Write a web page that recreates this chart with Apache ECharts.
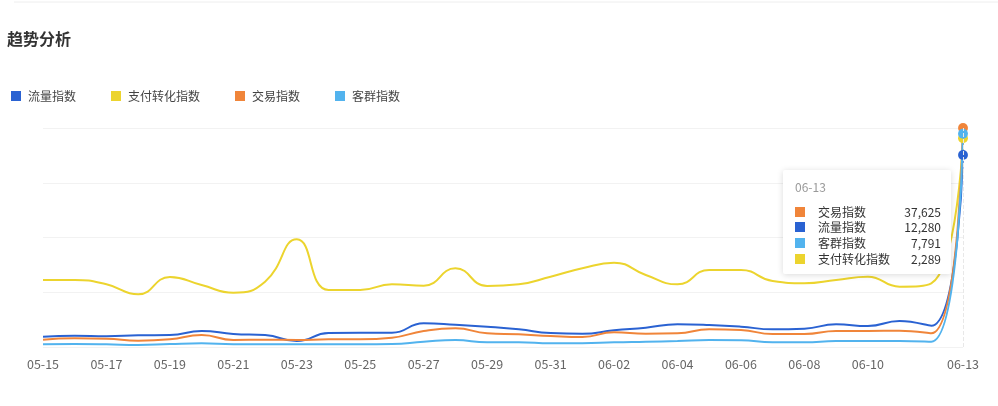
<!DOCTYPE html>
<html>
<head>
<meta charset="utf-8">
<script src="https://cdn.jsdelivr.net/npm/echarts@6/dist/echarts.min.js"></script>
<style>
  html, body { margin: 0; padding: 0; background: #fff; }
  #trendChart { width: 998px; height: 406px; }
</style>
</head>
<body>
<div id="trendChart"></div>
<script>
// 日期 05-15 ~ 06-13
const dates = ['05-15','05-16','05-17','05-18','05-19','05-20','05-21','05-22','05-23','05-24',
  '05-25','05-26','05-27','05-28','05-29','05-30','05-31','06-01','06-02','06-03',
  '06-04','06-05','06-06','06-07','06-08','06-09','06-10','06-11','06-12','06-13'];

const flowIndex = [659, 722, 684, 748, 767, 1023, 831, 767, 384, 895,
  914, 914, 1515, 1426, 1298, 1131, 895, 850, 1068, 1234,
  1451, 1406, 1298, 1131, 1170, 1451, 1342, 1662, 1362, 12280];

const payIndex = [734, 734, 687, 578, 767, 679, 595, 716, 1180, 625,
  625, 687, 672, 862, 668, 687, 770, 862, 924, 789,
  687, 844, 844, 723, 698, 734, 770, 661, 696, 2289];

const tradeIndex = [1254, 1495, 1426, 1082, 1323, 2062, 1203, 1254, 1203, 1323,
  1323, 1598, 2749, 3213, 2354, 2182, 1890, 1718, 2525, 2285,
  2354, 3041, 2921, 2233, 2233, 2749, 2749, 2800, 2354, 37625];

const customerIndex = [99, 110, 99, 73, 110, 135, 99, 99, 99, 99,
  99, 110, 194, 256, 172, 172, 135, 135, 172, 194,
  219, 256, 245, 172, 172, 219, 219, 219, 194, 7791];

const seriesNames = ['流量指数', '支付转化指数', '交易指数', '客群指数'];
const seriesColors = ['#2a62d2', '#ecd42e', '#f0853a', '#52b3ee'];

const font = '"Noto Sans CJK SC", "Noto Sans", sans-serif';
const chart = echarts.init(document.getElementById('trendChart'));

const makeLine = (idx, data) => ({
  name: seriesNames[idx],
  type: 'line',
  yAxisIndex: idx,
  data,
  smooth: true,
  showSymbol: false,
  symbol: 'circle',
  symbolSize: 9,
  lineStyle: { width: 2, color: seriesColors[idx] },
  itemStyle: { color: seriesColors[idx], borderWidth: 0 },
  emphasis: { disabled: true }
});

const hiddenAxis = (max) => ({ type: 'value', show: false, min: 0, max });

const fmt = (v) => Number(v).toLocaleString('en-US');

chart.setOption({
  animation: false,
  textStyle: { fontFamily: font },
  title: {
    text: '趋势分析',
    left: 2,
    top: 26,
    textStyle: { fontSize: 16, fontWeight: 'bold', color: '#333', fontFamily: font }
  },
  legend: {
    left: 6,
    top: 85,
    icon: 'rect',
    itemWidth: 10,
    itemHeight: 10,
    itemGap: 35,
    textStyle: { fontSize: 12, color: '#444', padding: [0, 0, 0, 2], fontFamily: font },
    data: seriesNames
  },
  grid: { left: 43, right: 35, top: 128, bottom: 59 },
  tooltip: {
    trigger: 'axis',
    position: [783, 170],
    backgroundColor: '#fff',
    borderWidth: 0,
    padding: [9, 10, 8, 12],
    extraCssText: 'box-shadow: 0 1px 6px rgba(0,0,0,0.15); border-radius: 2px;',
    axisPointer: { type: 'line', lineStyle: { color: '#e8e8e8', width: 1 } },
    formatter: (params) => {
      const rows = params.slice().sort((a, b) => b.value - a.value).map(p =>
        '<div style="display:flex;align-items:center;height:15.7px;">' +
        '<span style="display:inline-block;width:10px;height:10px;background:' + p.color + ';margin-right:13px;"></span>' +
        '<span style="flex:1;color:#333;">' + p.seriesName + '</span>' +
        '<span style="color:#333;margin-left:20px;">' + fmt(p.value) + '</span></div>'
      ).join('');
      return '<div style="font-family:' + font.replace(/"/g, "'") + ';font-size:12px;width:146px;line-height:15.7px;">' +
        '<div style="color:#999;margin-bottom:9px;">' + params[0].axisValue + '</div>' + rows + '</div>';
    }
  },
  xAxis: {
    type: 'category',
    boundaryGap: false,
    data: dates,
    axisLine: { show: false },
    axisTick: { show: false },
    axisLabel: {
      color: '#666',
      fontSize: 12.5,
      margin: 11,
      fontFamily: font,
      interval: (i) => i === dates.length - 1 || (i % 2 === 0 && i < dates.length - 2)
    }
  },
  yAxis: [
    {
      type: 'value', min: 0, max: 14000, interval: 3500,
      axisLine: { show: false }, axisTick: { show: false }, axisLabel: { show: false },
      splitLine: { lineStyle: { color: '#f2f2f2' } }
    },
    hiddenAxis(2400),
    hiddenAxis('dataMax'),
    hiddenAxis(8000)
  ],
  graphic: [{
    type: 'line',
    shape: { x1: 14, y1: 2, x2: 998, y2: 2 },
    style: { stroke: '#eeeeee', lineWidth: 1 }
  }],
  series: [
    makeLine(0, flowIndex),
    makeLine(1, payIndex),
    makeLine(2, tradeIndex),
    makeLine(3, customerIndex)
  ]
});

chart.dispatchAction({ type: 'showTip', seriesIndex: 0, dataIndex: dates.length - 1 });
</script>
</body>
</html>
